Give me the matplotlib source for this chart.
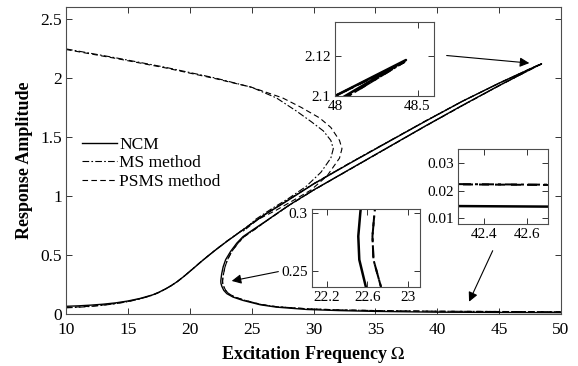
import matplotlib
matplotlib.use("Agg")
import matplotlib.pyplot as plt
from matplotlib.ticker import FormatStrFormatter

plt.rcParams['font.family'] = ['Liberation Serif', 'DejaVu Serif']
plt.rcParams['mathtext.fontset'] = 'stix'

# ---- NCM: upper branch -> peak -> middle branch -> turning -> lower branch
ncm_w = [10, 11, 12, 13, 14, 15, 16, 17, 17.5, 18, 18.5, 19, 19.5, 20, 20.5, 21, 22, 23, 24, 25, 26.2, 27.6, 30,
         33, 36, 39, 42, 45, 48.0, 48.43,
         48.0, 45, 42, 39, 36, 33, 30, 28, 26.2, 25.2, 24.3, 23.8, 23.3, 22.9, 22.7, 22.58, 22.53, 22.51, 22.52,
         22.59, 22.75, 23.0, 23.5, 24.3, 25.7, 27, 29.5, 32, 35, 40, 45, 50]
ncm_a = [0.065, 0.069, 0.075, 0.083, 0.094, 0.11, 0.132, 0.162, 0.184, 0.21, 0.24, 0.275, 0.316, 0.36, 0.405, 0.45,
         0.535, 0.615, 0.69, 0.765, 0.85, 0.94, 1.10, 1.28, 1.455, 1.63, 1.80, 1.955, 2.10, 2.118,
         2.097, 1.935, 1.765, 1.59, 1.41, 1.23, 1.05, 0.92, 0.79, 0.72, 0.655, 0.60, 0.53, 0.46, 0.40, 0.34, 0.30,
         0.28, 0.26, 0.235, 0.20, 0.172, 0.143, 0.115, 0.078, 0.058, 0.038, 0.029, 0.022, 0.0155, 0.0132, 0.0115]

# ---- MS method: main curve and spurious upper branch
ms_w = [10, 11, 12, 13, 14, 15, 16, 17, 17.5, 18, 18.5, 19, 19.5, 20, 20.5, 21, 22, 23, 24, 25, 26.2, 27.6, 30,
        33, 36, 39, 42, 45, 48.0, 48.42,
        48.0, 45, 42, 39, 36, 33, 30, 28, 26.2, 25.3, 24.4, 23.9, 23.4, 23.05, 22.85, 22.73, 22.67, 22.65, 22.66,
        22.74, 22.9, 23.15, 23.65, 24.45, 25.8, 27, 29.5, 32, 35, 40, 45, 50]
ms_a = [0.052, 0.057, 0.064, 0.074, 0.087, 0.104, 0.128, 0.159, 0.182, 0.209, 0.24, 0.275, 0.316, 0.361, 0.406,
        0.452, 0.537, 0.617, 0.692, 0.767, 0.853, 0.943, 1.103, 1.283, 1.458, 1.632, 1.80, 1.955, 2.10, 2.117,
        2.096, 1.933, 1.763, 1.588, 1.408, 1.228, 1.048, 0.918, 0.788, 0.72, 0.655, 0.60, 0.53, 0.46, 0.40, 0.34,
        0.30, 0.28, 0.26, 0.235, 0.20, 0.172, 0.143, 0.116, 0.08, 0.062, 0.044, 0.035, 0.029, 0.0235, 0.021, 0.019]
ms_up_w = [10, 14, 18, 22, 25, 27, 28.6, 29.8, 30.8, 31.4, 31.6, 31.4, 30.6, 29.4, 28, 26.6, 25.3, 24.3]
ms_up_a = [2.245, 2.17, 2.09, 2.0, 1.92, 1.83, 1.72, 1.63, 1.55, 1.47, 1.40, 1.32, 1.20, 1.08, 0.98, 0.89, 0.80, 0.70]

# ---- PSMS method
psms_w = ms_w
psms_a = [0.055, 0.06, 0.066, 0.076, 0.089, 0.106, 0.13, 0.16, 0.183, 0.21, 0.24, 0.275, 0.316, 0.36, 0.405,
          0.451, 0.536, 0.616, 0.691, 0.766, 0.852, 0.942, 1.102, 1.282, 1.457, 1.631, 1.80, 1.955, 2.10, 2.117,
          2.096, 1.934, 1.764, 1.589, 1.409, 1.229, 1.049, 0.919, 0.789, 0.72, 0.655, 0.60, 0.53, 0.46, 0.40, 0.34,
          0.30, 0.28, 0.26, 0.235, 0.20, 0.172, 0.143, 0.116, 0.08, 0.062, 0.044, 0.035, 0.029, 0.0234, 0.0209, 0.019]
psms_up_w = [10, 14, 18, 22, 25, 27.5, 29, 30.5, 31.4, 32.1, 32.3, 32.1, 31.1, 29.8, 28.5, 27, 25.5, 24.3]
psms_up_a = [2.24, 2.165, 2.085, 1.995, 1.92, 1.83, 1.75, 1.66, 1.58, 1.47, 1.40, 1.32, 1.17, 1.05, 0.97, 0.88, 0.80, 0.70]

DASHDOT = (0, (6, 2, 1.5, 2))
DASHED = (0, (5, 3))

fig = plt.figure(figsize=(5.78, 3.66), dpi=100)
ax = fig.add_axes([0.1142, 0.1421, 0.8564, 0.8388])


def draw(a, lw):
    a.plot(ncm_w, ncm_a, color='k', lw=lw, ls='-', label='NCM')
    a.plot(ms_w, ms_a, color='k', lw=lw * 0.8, ls=DASHDOT, label='MS method')
    a.plot(psms_w, psms_a, color='k', lw=lw * 0.8, ls=DASHED, label='PSMS method')
    a.plot(ms_up_w, ms_up_a, color='k', lw=lw * 0.8, ls=DASHDOT)
    a.plot(psms_up_w, psms_up_a, color='k', lw=lw * 0.8, ls=DASHED)


def style(a, size, xpad=3):
    a.tick_params(direction='in', top=True, right=True, labelsize=size, length=4, width=0.7, colors='0.2',
                  labelcolor='k', pad=3)
    a.tick_params(axis='x', pad=xpad)
    for s in a.spines.values():
        s.set_color('0.3')
        s.set_linewidth(0.8)
    a.yaxis.set_major_formatter(FormatStrFormatter('%g'))
    a.xaxis.set_major_formatter(FormatStrFormatter('%g'))


draw(ax, 1.0)
ax.set_xlim(10, 50)
ax.set_ylim(0, 2.6)
ax.set_xticks(range(10, 51, 5))
ax.set_yticks([0, 0.5, 1, 1.5, 2, 2.5])
style(ax, 12.5, xpad=6)
ax.set_xlabel(r'Excitation Frequency $\Omega$', fontsize=13, fontweight='bold', labelpad=4)
ax.set_ylabel('Response Amplitude', fontsize=13, fontweight='bold', labelpad=5)

leg = ax.legend(loc='upper left', bbox_to_anchor=(0.032, 0.578), frameon=False, fontsize=12.5,
                handlelength=2.0, handletextpad=0.15, labelspacing=0.15, borderaxespad=0, borderpad=0)

arrow = dict(arrowstyle='-|>', color='k', lw=0.8, mutation_scale=14, shrinkA=0, shrinkB=0)
ax.annotate('', xy=(47.44, 2.125), xytext=(40.76, 2.189), arrowprops=arrow)
ax.annotate('', xy=(23.39, 0.28), xytext=(27.16, 0.359), arrowprops=arrow)
ax.annotate('', xy=(42.57, 0.104), xytext=(44.48, 0.536), arrowprops=arrow)

# inset near the peak
ax1 = fig.add_axes([0.5796, 0.7377, 0.1713, 0.2022])
draw(ax1, 1.8)
ax1.set_xlim(48, 48.6)
ax1.set_ylim(2.1, 2.137)
ax1.set_xticks([48, 48.5])
ax1.set_yticks([2.1, 2.12])
style(ax1, 11)

# inset near the left turning point
ax2 = fig.add_axes([0.5393, 0.2167, 0.1874, 0.2115])
draw(ax2, 1.8)
ax2.set_xlim(22.05, 23.12)
ax2.set_ylim(0.237, 0.303)
ax2.set_xticks([22.2, 22.6, 23])
ax2.set_yticks([0.25, 0.3])
style(ax2, 11)

# inset on the lower branch
ax3 = fig.add_axes([0.7919, 0.388, 0.1567, 0.2049])
draw(ax3, 1.8)
ax3.set_xlim(42.28, 42.7)
ax3.set_ylim(0.008, 0.035)
ax3.set_xticks([42.4, 42.6])
ax3.set_yticks([0.01, 0.02, 0.03])
style(ax3, 11)

fig.savefig('out.png', dpi=100)
